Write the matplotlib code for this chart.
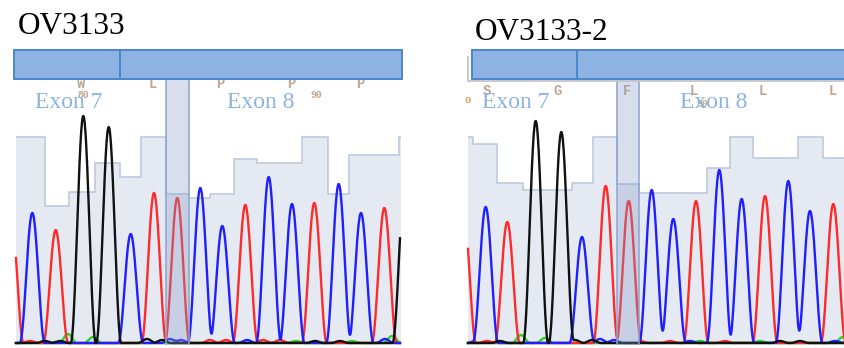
import numpy as np
import matplotlib
matplotlib.use("Agg")
import matplotlib.pyplot as plt
from matplotlib.patches import Rectangle

# ---------------- data ----------------
titles = ["OV3133", "OV3133-2"]
exon_names = ["Exon 7", "Exon 8"]

# main called peaks (scan position, intensity, base)
L_pos = [11, 32.3, 55.7, 83.3, 108.7, 130.7, 154, 177.3, 200.3, 222.3, 245.3, 268.7, 292, 314.3, 338.7, 361, 384.3, 405]
L_hgt = [130, 130, 113, 227, 216, 109, 150, 145, 155, 117, 138, 166, 139, 140, 159, 130, 135, 160]
L_base = list("TCTGGCTTCCTCCTCCTG")

R_pos = [463.5, 485.7, 507.3, 535.7, 561.3, 582, 605.7, 628.7, 651.7, 673.3, 696, 719.3, 741.7, 765, 788.3, 810, 833.3]
R_hgt = [132, 136, 121, 222, 211, 106, 157, 142, 153, 124, 142, 173, 144, 147, 162, 132, 139]
R_base = list("TCTGGCTTCCTCCTCCT")

# minor baseline signal (scan position, intensity, base)
L_min_pos = [68, 93, 392, 296, 352, 45, 60, 147, 162, 315, 340, 170, 181, 247, 385, 30, 210, 226, 263, 280]
L_min_hgt = [9, 6, 7, 2, 2, 2, 2, 4, 3, 2, 2, 4, 3, 3, 4, 2, 3, 3, 3, 3]
L_min_base = list("AAAAAGGGGGGCCCCTTTTT")

R_min_pos = [521, 545, 843, 700, 760, 500, 575, 592, 780, 800, 476, 600, 614, 690, 835, 487, 640, 670, 725]
R_min_hgt = [8, 5, 6, 2, 2, 2, 3, 3, 2, 2, 2, 4, 3, 2, 2, 2, 2, 2, 2]
R_min_base = list("AAAAAGGGGGCCCCCTTTT")

# quality bars (step edges in scan positions, heights)
L_q_edges = [16, 45, 69, 95, 120, 141, 166, 189, 210, 234, 257, 302, 328, 349, 399, 401]
L_q_vals = [206, 137, 151, 180, 166, 206, 149, 145, 149, 184, 180, 206, 149, 188, 206]
R_q_edges = [468, 473, 497, 523, 572, 593, 617, 639, 707, 730, 753, 798, 823, 846]
R_q_vals = [206, 199, 160, 153, 160, 206, 159, 150, 175, 206, 185, 206, 185]

# exon annotation (start, boundary, end) and highlighted base
L_exon = [14.3, 120, 401.7]
R_exon = [472, 577, 870]
L_hl = [166, 189]
R_hl = [617, 639]

# amino-acid / numbering labels (x, text)
L_aa_x = [81, 153, 220, 291, 360]
L_aa = ["W", "L", "P", "P", "P"]
L_num_x = [83, 316]
L_num = ["80", "90"]
R_aa_x = [487, 558, 627, 694, 763, 833]
R_aa = ["S", "G", "F", "L", "L", "L"]
R_num_x = [702]
R_num = ["90"]

# ---------------- style ----------------
W, H = 845, 348
base_col = {"A": "#22d822", "C": "#1f1fff", "G": "#111111", "T": "#ff2a2a"}
q_fill = "#e5e9f2"
q_line = "#b9c6dd"
bar_fill = "#8db3e2"
bar_edge = "#4a86cf"
hl_col = (137/255, 155/255, 197/255, 0.33)
hl_edge = "#8ca4d2"
exon_txt = "#8db3e2"
aa_col = "#bfa792"

fig = plt.figure(figsize=(W/100, H/100), dpi=100)


def px_ax(x0, x1, y0=45, y1=344.5):
    return fig.add_axes([x0 / W, (H - y1) / H, (x1 - x0) / W, (y1 - y0) / H])


def trace(xs, pos, hgt, base, b, half):
    y = np.zeros_like(xs)
    for p, h, bb in zip(pos, hgt, base):
        if bb == b:
            d = np.clip(np.abs(xs - p) / half, 0, 1)
            y += h * np.cos(np.pi * d / 2) ** 2
    return y


def panel(ax, xlim, tr_range, pos, hgt, base, mpos, mhgt, mbase,
          qe, qv, exon, hl, aa_x, aa, num_x, num, aa_y, num_y, exon_txt_x):
    ax.set_xlim(*xlim)
    ax.set_ylim(-1.5, 298)
    ax.axis("off")
    ax.stairs(qv, qe, baseline=-1.5, fill=True, color=q_fill, zorder=1)
    ax.stairs(qv, qe, baseline=None, color=q_line, lw=1.1, zorder=2)
    xs = np.arange(tr_range[0], tr_range[1] + 0.01, 0.25)
    for b in ["A", "T", "C", "G"]:
        y = trace(xs, pos, hgt, base, b, 12.5) + trace(xs, mpos, mhgt, mbase, b, 9.0)
        ax.plot(xs, y, color=base_col[b], lw=1.7, zorder=3, solid_joinstyle="round")
    ax.add_patch(Rectangle((hl[0], -1.5), hl[1] - hl[0], 264.3 + 1.5,
                           facecolor=hl_col, edgecolor="none", zorder=4))
    ax.vlines(hl, -1.5, 264.3, color=hl_edge, lw=1.1, zorder=4)
    for a, b2 in [(exon[0], exon[1]), (exon[1], exon[2])]:
        ax.add_patch(Rectangle((a, 264.3), b2 - a, 293 - 264.3, facecolor=bar_fill,
                               edgecolor=bar_edge, lw=1.4, zorder=6))
    for x, t in zip(aa_x, aa):
        c = "#a8a4a0" if t == "F" else aa_col
        ax.text(x, aa_y, t, ha="center", va="center", fontsize=10, color=c,
                family="Liberation Mono", fontweight="bold", zorder=5)
    for x, t in zip(num_x, num):
        ax.text(x, num_y, t, ha="center", va="center", fontsize=7, color=aa_col,
                family="Liberation Mono", fontweight="bold", zorder=5)
    for x, t in zip(exon_txt_x, exon_names):
        ax.text(x, 241, t, ha="left", va="center", fontsize=17, color=exon_txt,
                family="Liberation Serif", zorder=7)


axL = px_ax(13, 403)
panel(axL, (13, 403), (16, 400), L_pos, L_hgt, L_base, L_min_pos, L_min_hgt, L_min_base,
      L_q_edges, L_q_vals, L_exon, L_hl, L_aa_x, L_aa, L_num_x, L_num, 259, 248, [35, 227])

axR = px_ax(466, 845)
panel(axR, (466, 845), (468, 845), R_pos, R_hgt, R_base, R_min_pos, R_min_hgt, R_min_base,
      R_q_edges, R_q_vals, R_exon, R_hl, R_aa_x, R_aa, R_num_x, R_num, 252, 239, [482, 680])
# frame of the viewer on the right panel
axR.plot([468.5, 468.5, 845], [286, 262, 262], color="#c4c4c4", lw=1.3, zorder=5)
axR.text(468, 243, "o", ha="center", va="center", fontsize=9, color="#d9a860",
         family="Liberation Serif", fontweight="bold", zorder=5)

fig.text(18 / W, 1 - 33.5 / H, titles[0], ha="left", va="baseline", fontsize=22.5,
         family="Liberation Serif", color="black")
fig.text(474.5 / W, 1 - 39.5 / H, titles[1], ha="left", va="baseline", fontsize=22.5,
         family="Liberation Serif", color="black")

fig.savefig("out.png", dpi=100)
